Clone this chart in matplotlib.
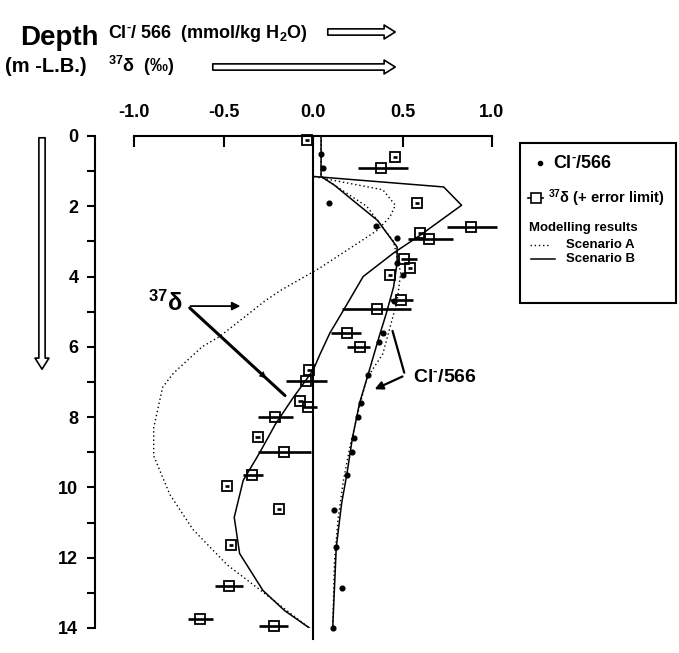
import matplotlib
matplotlib.use('Agg')
import matplotlib.pyplot as plt
from matplotlib.lines import Line2D
from matplotlib.patches import Rectangle

FONT = ['Liberation Sans', 'DejaVu Sans']
plt.rcParams['font.family'] = FONT
plt.rcParams['font.weight'] = 'bold'
plt.rcParams['mathtext.fontset'] = 'custom'
plt.rcParams['mathtext.rm'] = 'Liberation Sans:bold'
plt.rcParams['mathtext.it'] = 'Liberation Sans:bold'
plt.rcParams['mathtext.bf'] = 'Liberation Sans:bold'

CL = r'Cl$^{\text{-}}$'

# Cl-/566 measurements
cl_depth = [0.5, 0.9, 1.9, 2.55, 2.9, 3.6, 3.95, 4.7, 5.6, 5.85, 6.8, 7.6, 8.0,
            8.6, 9.0, 9.65, 10.65, 11.7, 12.85, 14.0]
cl_val = [0.045, 0.055, 0.09, 0.35, 0.47, 0.47, 0.50, 0.45, 0.39, 0.37, 0.31,
          0.27, 0.25, 0.23, 0.22, 0.19, 0.12, 0.13, 0.16, 0.11]

# 37-delta measurements with error limits
d_depth = [0.1, 0.6, 0.9, 1.9, 2.6, 2.75, 2.93, 3.5, 3.75, 3.95, 4.67, 4.93,
           5.6, 6.0, 6.65, 6.97, 7.55, 7.7, 8.0, 8.57, 9.0, 9.65, 9.97, 10.6,
           11.65, 12.8, 13.75, 13.95]
d_val = [-0.035, 0.46, 0.38, 0.58, 0.88, 0.60, 0.65, 0.51, 0.54, 0.43, 0.49,
         0.36, 0.19, 0.26, -0.02, -0.04, -0.07, -0.03, -0.21, -0.31, -0.16,
         -0.34, -0.48, -0.19, -0.46, -0.47, -0.63, -0.22]
d_lo = [-0.047, 0.448, 0.25, 0.568, 0.75, 0.588, 0.53, 0.49, 0.528, 0.418,
        0.43, 0.16, 0.10, 0.19, -0.032, -0.15, -0.082, -0.06, -0.31, -0.322,
        -0.31, -0.39, -0.492, -0.202, -0.472, -0.55, -0.70, -0.30]
d_hi = [-0.023, 0.472, 0.53, 0.592, 1.03, 0.612, 0.78, 0.58, 0.552, 0.442,
        0.56, 0.55, 0.27, 0.32, -0.008, 0.08, -0.058, 0.02, -0.11, -0.298,
        -0.01, -0.28, -0.468, -0.178, -0.448, -0.39, -0.56, -0.14]

# model curves
clA_depth = [0, 1.15, 2.0, 3.0, 3.9, 4.7, 5.45, 6.2, 6.9, 7.9, 8.75, 9.8, 10.9, 12.1, 14.0]
clA_val = [0.045, 0.045, 0.30, 0.45, 0.49, 0.47, 0.43, 0.39, 0.30, 0.25, 0.21, 0.17, 0.14, 0.12, 0.11]
clB_depth = [0, 1.15, 1.4, 1.82, 2.4, 3.16, 3.6, 4.3, 5.04, 5.7, 6.75, 7.6, 8.6, 9.6, 10.45, 11.7, 14.0]
clB_val = [0.045, 0.045, 0.12, 0.22, 0.36, 0.47, 0.47, 0.45, 0.41, 0.37, 0.31, 0.26, 0.22, 0.19, 0.16, 0.13, 0.11]
dA_depth = [0, 1.15, 1.53, 1.97, 2.3, 2.68, 3.05, 3.75, 4.39, 4.7, 5.7, 6.0, 6.75, 7.15,
            8.3, 9.1, 10.2, 11.2, 12.2, 12.9, 14.0]
dA_val = [0, 0, 0.39, 0.46, 0.43, 0.36, 0.25, 0.04, -0.18, -0.27, -0.52, -0.62, -0.78,
          -0.84, -0.89, -0.89, -0.80, -0.67, -0.48, -0.30, -0.02]
dB_depth = [0, 1.15, 1.45, 1.97, 2.45, 2.82, 3.33, 4.0, 4.96, 5.6, 6.2, 6.67, 7.44,
            8.2, 9.03, 9.8, 10.85, 11.88, 12.93, 13.5, 14.0]
dB_val = [0, 0, 0.73, 0.83, 0.70, 0.60, 0.45, 0.28, 0.17, 0.095, 0.04, 0.0, -0.11,
          -0.21, -0.30, -0.39, -0.44, -0.41, -0.28, -0.16, -0.02]

x_ticks = [-1.0, -0.5, 0.0, 0.5, 1.0]
x_labels = ['-1.0', '-0.5', '0.0', '0.5', '1.0']
depth_ticks = list(range(0, 15))

W, H = 679, 653
fig = plt.figure(figsize=(W / 100, H / 100), dpi=100)
ax = fig.add_axes([134 / W, 1 - 628 / H, (492 - 134) / W, (628 - 136) / H])

# models
ax.plot(clA_val, clA_depth, color='black', lw=1.0, ls=(0, (1, 2)))
ax.plot(dA_val, dA_depth, color='black', lw=1.0, ls=(0, (1, 2)))
ax.plot(clB_val, clB_depth, color='black', lw=1.1)
ax.plot(dB_val, dB_depth, color='black', lw=1.1)

# data
ax.plot(cl_val, cl_depth, 'o', color='black', ms=3.4, clip_on=False)
xerr = [[v - lo for v, lo in zip(d_val, d_lo)], [hi - v for v, hi in zip(d_val, d_hi)]]
ax.errorbar(d_val, d_depth, xerr=xerr, fmt='s', mfc='none', mec='black', mew=1.3,
            ms=7, ecolor='black', elinewidth=1.9, capsize=0, clip_on=False)

ax.axvline(0, ymin=-0.022, ymax=1, color='black', lw=1.5, clip_on=False)

ax.set_xlim(-1, 1)
ax.set_ylim(14, 0)
ax.xaxis.tick_top()
ax.set_xticks(x_ticks)
ax.set_xticklabels(x_labels)
ax.tick_params(axis='x', direction='in', length=8, width=1.5, pad=11, labelsize=13)
ax.set_yticks(depth_ticks)
ax.set_yticklabels([str(d) if d % 2 == 0 else '' for d in depth_ticks])
ax.tick_params(axis='y', direction='out', length=6, width=1.5, pad=6, labelsize=13)
ax.spines['left'].set_position(('axes', -0.109))
ax.spines['left'].set_linewidth(1.5)
ax.spines['top'].set_linewidth(1.5)
ax.spines['right'].set_visible(False)
ax.spines['bottom'].set_visible(False)

# annotations
ax.text(-0.726, 4.76, r'$^{37}$δ', ha='right', va='center', fontsize=17)
ax.annotate('', xy=(-0.39, 4.84), xytext=(-0.70, 4.84),
            arrowprops=dict(arrowstyle='-|>', color='black', lw=1.3, mutation_scale=12))
ax.annotate('', xy=(-0.145, 7.44), xytext=(-0.70, 4.84),
            arrowprops=dict(arrowstyle='-', color='black', lw=2.2))
ax.annotate('', xy=(-0.25, 6.95), xytext=(-0.40, 6.25),
            arrowprops=dict(arrowstyle='-|>', color='black', lw=0.1, mutation_scale=12))
ax.text(0.56, 6.87, CL + '/566', ha='left', va='center', fontsize=14)
ax.annotate('', xy=(0.44, 5.47), xytext=(0.514, 6.81),
            arrowprops=dict(arrowstyle='-', color='black', lw=1.6))
ax.annotate('', xy=(0.33, 7.24), xytext=(0.514, 6.81),
            arrowprops=dict(arrowstyle='-|>', color='black', lw=1.6, mutation_scale=12))

# header
fig.text(20 / W, 1 - 38 / H, 'Depth', ha='left', va='center', fontsize=20)
fig.text(5 / W, 1 - 66 / H, '(m -L.B.)', ha='left', va='center', fontsize=14.5)
fig.text(108 / W, 1 - 33 / H, CL + r'/ 566  (mmol/kg H$_{2}$O)', ha='left', va='center', fontsize=13)
fig.text(108 / W, 1 - 66 / H, r'$^{37}$δ  (‰)', ha='left', va='center', fontsize=13)

hollow = dict(arrowstyle='simple,head_length=0.8,head_width=1.0,tail_width=0.45',
              fc='white', ec='black', lw=1.2)
ax.annotate('', xy=(398, H - 32), xytext=(325, H - 32), xycoords='figure pixels',
            textcoords='figure pixels', arrowprops=hollow, annotation_clip=False)
ax.annotate('', xy=(398, H - 67), xytext=(210, H - 67), xycoords='figure pixels',
            textcoords='figure pixels', arrowprops=hollow, annotation_clip=False)
ax.annotate('', xy=(42, H - 372), xytext=(42, H - 135), xycoords='figure pixels',
            textcoords='figure pixels', arrowprops=hollow, annotation_clip=False)

# legend box
fig.patches.append(Rectangle((520 / W, 1 - 303 / H), 156 / W, 160 / H, transform=fig.transFigure,
                             fill=False, ec='black', lw=1.5))
fig.lines.append(Line2D([540 / W], [1 - 163 / H], marker='o', ms=3, color='black',
                        transform=fig.transFigure))
fig.text(553 / W, 1 - 163 / H, CL + '/566', ha='left', va='center', fontsize=13)
fig.lines.append(Line2D([528 / W, 543 / W], [1 - 198 / H, 1 - 198 / H], color='black', lw=1.2,
                        transform=fig.transFigure))
fig.lines.append(Line2D([535.5 / W], [1 - 198 / H], marker='s', ms=7, mfc='white', mec='black',
                        mew=1.2, transform=fig.transFigure))
fig.text(548 / W, 1 - 198 / H, r'$^{37}$δ (+ error limit)', ha='left', va='center', fontsize=10.5)
fig.text(529 / W, 1 - 228 / H, 'Modelling results', ha='left', va='center', fontsize=9.5)
fig.lines.append(Line2D([530 / W, 550 / W], [1 - 245 / H, 1 - 245 / H], color='black', lw=1.0,
                        ls=(0, (1, 2)), transform=fig.transFigure))
fig.text(566 / W, 1 - 245 / H, 'Scenario A', ha='left', va='center', fontsize=9.5)
fig.lines.append(Line2D([531 / W, 555 / W], [1 - 259 / H, 1 - 259 / H], color='black', lw=1.1,
                        transform=fig.transFigure))
fig.text(566 / W, 1 - 259 / H, 'Scenario B', ha='left', va='center', fontsize=9.5)

fig.savefig('out.png', dpi=100)
